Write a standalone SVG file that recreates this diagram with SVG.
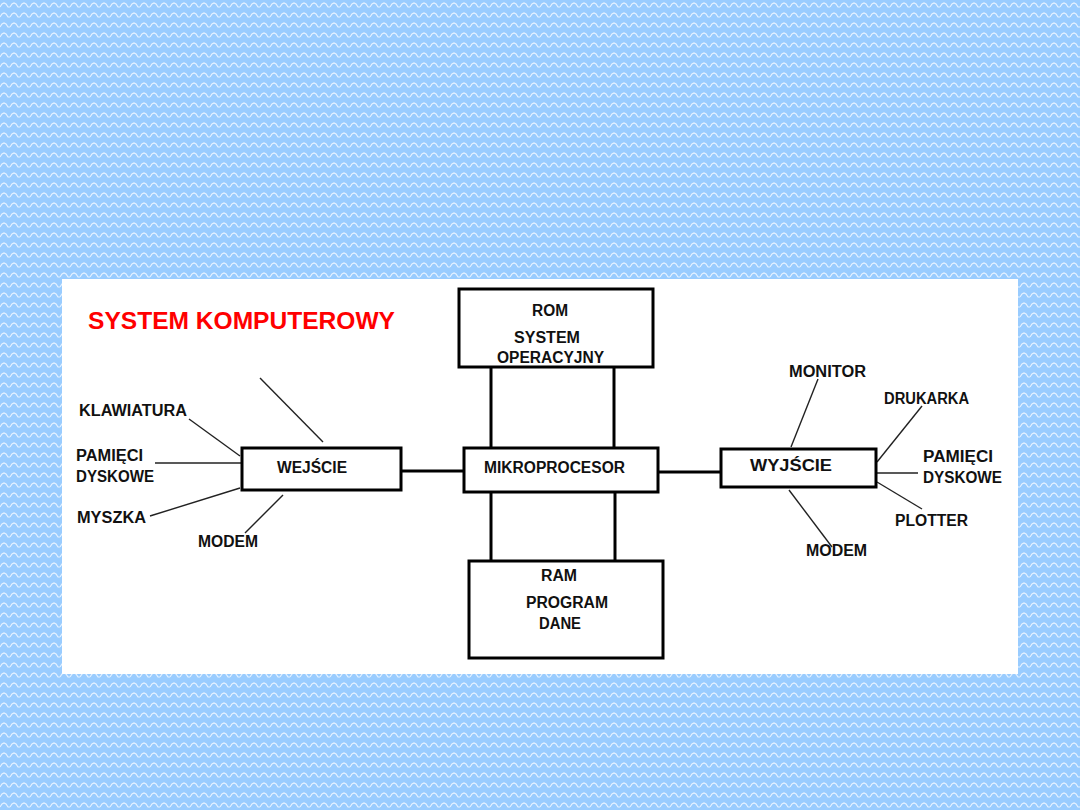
<svg xmlns="http://www.w3.org/2000/svg" width="1080" height="810" viewBox="0 0 1080 810">
<defs>
<pattern id="bg" width="10" height="10" patternUnits="userSpaceOnUse">
<rect width="10" height="10" fill="#99CCFF"/>
<path d="M0,7 L2,4 L4,3 L6,4 L8,7 L10,7" fill="none" stroke="#E6F2FF" stroke-width="1.2"/>
</pattern>
<style>
.box{fill:#fff;stroke:#000;stroke-width:3}
.bus{stroke:#000;stroke-width:3;fill:none}
.thin{stroke:#222;stroke-width:1.4;fill:none}
text{font-family:"Liberation Sans",Arial,sans-serif;font-weight:bold;font-size:16px;fill:#111}
.title{font-size:23px;fill:#FF0000}
</style>
</defs>
<rect width="1080" height="810" fill="url(#bg)"/>
<rect x="62" y="279" width="956" height="395" fill="#fff"/>
<text class="title" x="88" y="329" textLength="307" lengthAdjust="spacingAndGlyphs">SYSTEM KOMPUTEROWY</text>
<g id="connectors">
<line class="bus" x1="491" y1="367" x2="491" y2="448"/>
<line class="bus" x1="614" y1="367" x2="614" y2="448"/>
<line class="bus" x1="491" y1="492" x2="491" y2="561"/>
<line class="bus" x1="615" y1="492" x2="615" y2="561"/>
<line class="bus" x1="401" y1="471" x2="464" y2="471"/>
<line class="bus" x1="658" y1="472" x2="721" y2="472"/>
<line class="thin" x1="260" y1="378" x2="323" y2="442"/>
<line class="thin" x1="189" y1="419" x2="240" y2="456"/>
<line class="thin" x1="155" y1="463" x2="242" y2="463"/>
<line class="thin" x1="150" y1="516" x2="240" y2="488"/>
<line class="thin" x1="245" y1="533" x2="283" y2="495"/>
<line class="thin" x1="818" y1="379" x2="791" y2="447"/>
<line class="thin" x1="922" y1="406" x2="877" y2="462"/>
<line class="thin" x1="876" y1="473" x2="918" y2="473"/>
<line class="thin" x1="877" y1="482" x2="922" y2="509"/>
<line class="thin" x1="789" y1="490" x2="832" y2="547"/>
</g>
<g id="rom">
<rect class="box" x="459" y="289" width="194" height="78"/>
<text x="532" y="316" textLength="36" lengthAdjust="spacingAndGlyphs">ROM</text>
<text x="514" y="343" textLength="66" lengthAdjust="spacingAndGlyphs">SYSTEM</text>
<text x="497" y="363" textLength="107" lengthAdjust="spacingAndGlyphs">OPERACYJNY</text>
</g>
<g id="mikroprocesor">
<rect class="box" x="464" y="448" width="194" height="44"/>
<text x="484" y="473" textLength="141" lengthAdjust="spacingAndGlyphs">MIKROPROCESOR</text>
</g>
<g id="ram">
<rect class="box" x="469" y="561" width="194" height="97"/>
<text x="541" y="581" textLength="36" lengthAdjust="spacingAndGlyphs">RAM</text>
<text x="526" y="608" textLength="82" lengthAdjust="spacingAndGlyphs">PROGRAM</text>
<text x="539" y="629" textLength="42" lengthAdjust="spacingAndGlyphs">DANE</text>
</g>
<g id="wejscie">
<rect class="box" x="242" y="448" width="159" height="42"/>
<text x="277" y="473" textLength="70" lengthAdjust="spacingAndGlyphs">WEJŚCIE</text>
</g>
<g id="wyjscie">
<rect class="box" x="721" y="449" width="155" height="38"/>
<text x="750" y="471" textLength="82" lengthAdjust="spacingAndGlyphs">WYJŚCIE</text>
</g>
<g id="in-labels">
<text x="79" y="416" textLength="108" lengthAdjust="spacingAndGlyphs">KLAWIATURA</text>
<text x="76" y="461" textLength="67" lengthAdjust="spacingAndGlyphs">PAMIĘCI</text>
<text x="76" y="482" textLength="78" lengthAdjust="spacingAndGlyphs">DYSKOWE</text>
<text x="77" y="523" textLength="69" lengthAdjust="spacingAndGlyphs">MYSZKA</text>
<text x="198" y="547" textLength="60" lengthAdjust="spacingAndGlyphs">MODEM</text>
</g>
<g id="out-labels">
<text x="789" y="377" textLength="77" lengthAdjust="spacingAndGlyphs">MONITOR</text>
<text x="884" y="404" textLength="85" lengthAdjust="spacingAndGlyphs">DRUKARKA</text>
<text x="923" y="462" textLength="70" lengthAdjust="spacingAndGlyphs">PAMIĘCI</text>
<text x="923" y="483" textLength="79" lengthAdjust="spacingAndGlyphs">DYSKOWE</text>
<text x="895" y="526" textLength="73" lengthAdjust="spacingAndGlyphs">PLOTTER</text>
<text x="806" y="556" textLength="61" lengthAdjust="spacingAndGlyphs">MODEM</text>
</g>
</svg>
